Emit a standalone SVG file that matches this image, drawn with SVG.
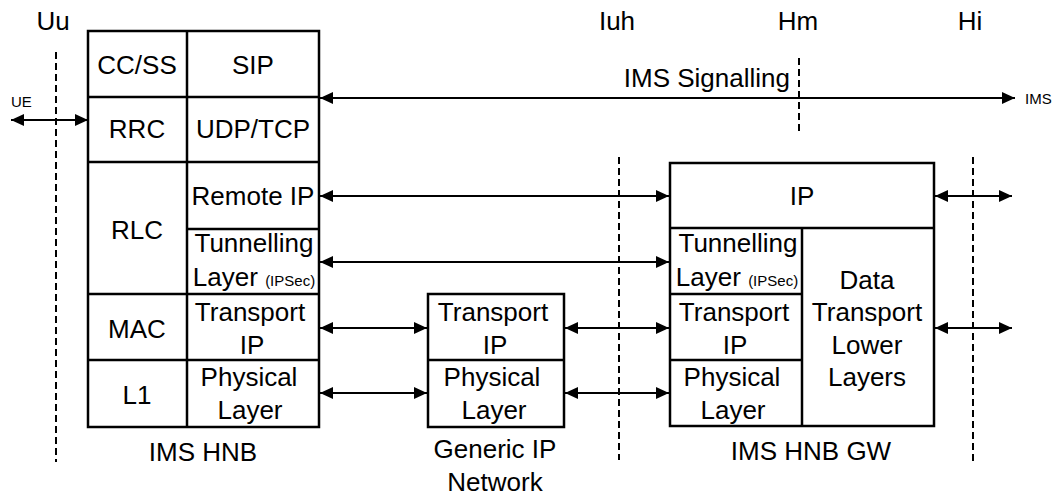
<svg xmlns="http://www.w3.org/2000/svg" width="1063" height="497" viewBox="0 0 1063 497">
<style>
text{font-family:"Liberation Sans",Arial,sans-serif;font-size:26px;fill:#000;text-anchor:middle}
.s{font-size:15px}
.st{font-size:15px;text-anchor:start}
.box{fill:#fff;stroke:#000;stroke-width:2.5}
.ln{stroke:#000;stroke-width:2.5;fill:none}
.dash{stroke:#000;stroke-width:2;stroke-dasharray:7 4;fill:none}
.ar{stroke:#000;stroke-width:2;fill:none;marker-start:url(#ah);marker-end:url(#ah)}
</style>
<defs>
<marker id="ah" markerUnits="userSpaceOnUse" markerWidth="13" markerHeight="12" refX="13" refY="6" orient="auto-start-reverse">
<path d="M0,0 L13,6 L0,12 z" fill="#000"/>
</marker>
</defs>
<rect width="1063" height="497" fill="#fff"/>
<g id="interfaces">
<line class="dash" x1="56" y1="52" x2="56" y2="462"/>
<line class="dash" x1="619" y1="157" x2="619" y2="460"/>
<line class="dash" x1="799" y1="58" x2="799" y2="133"/>
<line class="dash" x1="973" y1="157" x2="973" y2="462"/>
<text x="53" y="30">Uu</text>
<text x="617" y="30">Iuh</text>
<text x="798" y="30">Hm</text>
<text x="970" y="30">Hi</text>
</g>
<g id="ims-hnb">
<rect class="box" x="88" y="31" width="231" height="396"/>
<line class="ln" x1="187" y1="31" x2="187" y2="427"/>
<line class="ln" x1="88" y1="97" x2="319" y2="97"/>
<line class="ln" x1="88" y1="162" x2="319" y2="162"/>
<line class="ln" x1="187" y1="229" x2="319" y2="229"/>
<line class="ln" x1="88" y1="294" x2="319" y2="294"/>
<line class="ln" x1="88" y1="360" x2="319" y2="360"/>
<text x="137" y="74">CC/SS</text>
<text x="253" y="74">SIP</text>
<text x="137" y="138">RRC</text>
<text x="253" y="138">UDP/TCP</text>
<text x="137" y="239">RLC</text>
<text x="253" y="205">Remote IP</text>
<text x="254" y="252">Tunnelling</text>
<text x="254" y="286">Layer <tspan class="s">(IPSec)</tspan></text>
<text x="137" y="338">MAC</text>
<text x="250" y="321">Transport</text>
<text x="252" y="354">IP</text>
<text x="137" y="404">L1</text>
<text x="249" y="386">Physical</text>
<text x="250" y="419">Layer</text>
<text x="203" y="461">IMS HNB</text>
</g>
<g id="generic-ip-network">
<rect class="box" x="428" y="294" width="136" height="133"/>
<line class="ln" x1="428" y1="360" x2="564" y2="360"/>
<text x="493" y="321">Transport</text>
<text x="495" y="354">IP</text>
<text x="492" y="386">Physical</text>
<text x="494" y="419">Layer</text>
<text x="495" y="458">Generic IP</text>
<text x="495" y="491">Network</text>
</g>
<g id="ims-hnb-gw">
<rect class="box" x="670" y="163" width="264" height="263"/>
<line class="ln" x1="670" y1="228" x2="934" y2="228"/>
<line class="ln" x1="802" y1="228" x2="802" y2="426"/>
<line class="ln" x1="670" y1="294" x2="802" y2="294"/>
<line class="ln" x1="670" y1="360" x2="802" y2="360"/>
<text x="802" y="205">IP</text>
<text x="738" y="252">Tunnelling</text>
<text x="737" y="286">Layer <tspan class="s">(IPSec)</tspan></text>
<text x="734" y="321">Transport</text>
<text x="735" y="354">IP</text>
<text x="732" y="386">Physical</text>
<text x="733" y="419">Layer</text>
<text x="867" y="289">Data</text>
<text x="867" y="321">Transport</text>
<text x="867" y="354">Lower</text>
<text x="867" y="386">Layers</text>
<text x="811" y="460">IMS HNB GW</text>
</g>
<g id="connectors">
<line class="ar" x1="11" y1="120" x2="88" y2="120"/>
<line class="ar" x1="320" y1="98" x2="1015" y2="98"/>
<line class="ar" x1="320" y1="196" x2="669" y2="196"/>
<line class="ar" x1="320" y1="262" x2="669" y2="262"/>
<line class="ar" x1="320" y1="328" x2="427" y2="328"/>
<line class="ar" x1="320" y1="393" x2="427" y2="393"/>
<line class="ar" x1="565" y1="328" x2="669" y2="328"/>
<line class="ar" x1="565" y1="393" x2="669" y2="393"/>
<line class="ar" x1="935" y1="196" x2="1012" y2="196"/>
<line class="ar" x1="935" y1="328" x2="1012" y2="328"/>
<text class="st" x="11" y="107">UE</text>
<text class="st" x="1025" y="104">IMS</text>
<text x="790" y="87" style="text-anchor:end">IMS Signalling</text>
</g>
</svg>
